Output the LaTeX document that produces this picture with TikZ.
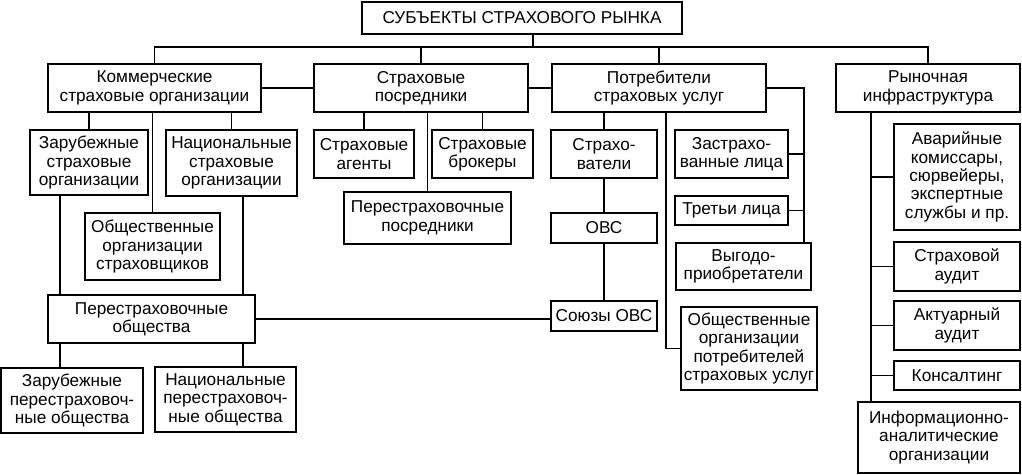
\documentclass[tikz,border=0pt]{standalone}
\usepackage{fontspec}
\setmainfont{Liberation Sans}
\usepackage{tikz}
\usetikzlibrary{positioning}
\tikzstyle{block} = [rectangle, draw=black, line width=1.1pt, align=center, inner sep=1pt, font=\fontsize{17.2}{18.3}\selectfont]
\tikzstyle{link} = [line width=1.1pt]

\begin{document}
\begin{tikzpicture}[x=1pt, y=1pt]
            \useasboundingbox (0,0) rectangle (1022,474);
            % Nodes
            \node [block, minimum width=320, minimum height=32] (subj) at (522,456) {СУБЪЕКТЫ СТРАХОВОГО РЫНКА};
            \node [block, minimum width=213, minimum height=48] (kom) at (154.5,386) {Коммерческие\\страховые организации};
            \node [block, minimum width=214, minimum height=48] (posr) at (421,386) {Страховые\\посредники};
            \node [block, minimum width=214, minimum height=48] (potr) at (659,386) {Потребители\\страховых услуг};
            \node [block, minimum width=184, minimum height=48] (rynok) at (928,386) {Рыночная\\инфраструктура};

            \node [block, minimum width=118, minimum height=65] (zarub) at (89,311.5) {Зарубежные\\страховые\\организации};
            \node [block, minimum width=131, minimum height=66] (nac) at (231.5,311) {Национальные\\страховые\\организации};
            \node [block, minimum width=135, minimum height=67] (obsh) at (152.5,227.5) {Общественные\\организации\\страховщиков};
            \node [block, minimum width=207, minimum height=48] (pere) at (151.5,155) {Перестраховочные\\общества};
            \node [block, minimum width=142, minimum height=65] (zpere) at (72,73.5) {Зарубежные\\перестраховоч-\\ные общества};
            \node [block, minimum width=141, minimum height=65] (npere) at (225.5,74.5) {Национальные\\перестраховоч-\\ные общества};

            \node [block, minimum width=100, minimum height=48] (agent) at (364,320) {Страховые\\агенты};
            \node [block, minimum width=101, minimum height=48] (broker) at (482.5,320) {Страховые\\брокеры};
            \node [block, minimum width=167, minimum height=52] (pposr) at (427.5,256) {Перестраховочные\\посредники};

            \node [block, minimum width=106, minimum height=48] (strah) at (604,320) {Страхо-\\ватели};
            \node [block, minimum width=106, minimum height=30] (ovs) at (604,246) {ОВС};
            \node [block, minimum width=106, minimum height=30] (soyuz) at (604,158) {Союзы ОВС};
            \node [block, minimum width=113, minimum height=48] (zastr) at (731.5,320) {Застрахо-\\ванные лица};
            \node [block, minimum width=113, minimum height=29] (treti) at (731.5,263.5) {Третьи лица};
            \node [block, minimum width=135, minimum height=47] (vygod) at (743.5,207.5) {Выгодо-\\приобретатели};
            \node [block, minimum width=136, minimum height=83] (obpotr) at (749,125.5) {Общественные\\организации\\потребителей\\страховых услуг};

            \node [block, minimum width=126, minimum height=106] (avar) at (957,297) {Аварийные\\комиссары,\\сюрвейеры,\\экспертные\\службы и пр.};
            \node [block, minimum width=126, minimum height=49] (audit) at (957,207.5) {Страховой\\аудит};
            \node [block, minimum width=126, minimum height=49] (aktu) at (957,148.5) {Актуарный\\аудит};
            \node [block, minimum width=126, minimum height=29] (kons) at (957,98.5) {Консалтинг};
            \node [block, minimum width=162, minimum height=71] (info) at (939,36.5) {Информационно-\\аналитические\\организации};

            % Lines
            \coordinate (bus) at (533,427);
            \draw [link] ([xshift=11pt]subj.south) -- (bus);
            \draw [link] (kom.north) |- (bus) -| (rynok.north);
            \draw [link] (posr.north) -- (posr.north |- bus);
            \draw [link] (potr.north) -- (potr.north |- bus);
            \draw [link] (kom.east) -- (posr.west);
            \draw [link] (posr.east) -- (potr.west);

            \draw [link] (zarub.north) -- (zarub.north |- kom.south);
            \draw [link] (nac.north) -- (nac.north |- kom.south);
            \draw [link] (obsh.north) -- (obsh.north |- kom.south);
            \coordinate (lft) at (60,0);
            \coordinate (rgt) at (243,0);
            \draw [link] (zarub.south -| lft) -- (pere.north -| lft);
            \draw [link] (nac.south -| rgt) -- (pere.north -| rgt);
            \draw [link] (pere.south -| lft) -- (zpere.north -| lft);
            \draw [link] (pere.south -| rgt) -- (npere.north -| rgt);
            \draw [link] (pere.east) -- (pere.east -| soyuz.west);

            \draw [link] (agent.north) -- (agent.north |- posr.south);
            \draw [link] (broker.north) -- (broker.north |- posr.south);
            \draw [link] (pposr.north) -- (pposr.north |- posr.south);

            \draw [link] (strah.north) -- (strah.north |- potr.south);
            \draw [link] (strah.south) -- (ovs.north);
            \draw [link] (ovs.south) -- (soyuz.north);
            \coordinate (pl) at (666,0);
            \draw [link] (potr.south -| pl) |- (obpotr.west);
            \coordinate (pr) at (804,0);
            \draw [link] (potr.east) -| (vygod.north -| pr);
            \draw [link] (zastr.east) -- (zastr.east -| pr);
            \draw [link] (treti.east) -- (treti.east -| pr);

            \coordinate (ri) at (871,0);
            \draw [link] (rynok.south -| ri) -- (info.north -| ri);
            \foreach \n in {avar, audit, aktu, kons}
                \draw [link] (\n.west) -- (\n.west -| ri);
        \end{tikzpicture}
\end{document}
